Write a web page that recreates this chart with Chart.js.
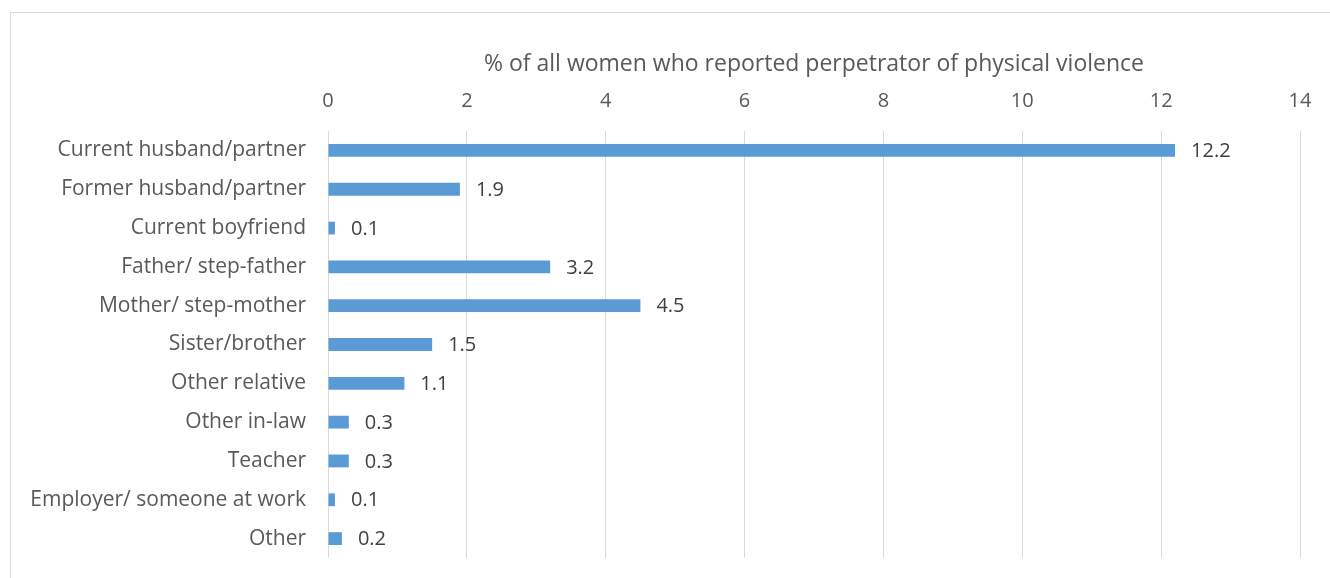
<!DOCTYPE html>
<html>
<head>
<meta charset="utf-8">
<script src="https://cdn.jsdelivr.net/npm/chart.js@4/dist/chart.umd.min.js"></script>
<style>
  html, body { margin: 0; padding: 0; background: #fff; }
  #wrap { width: 1330px; height: 578px; position: relative; }
</style>
</head>
<body>
<div id="wrap"><canvas id="myChart" width="1330" height="578"></canvas></div>
<script>
const categories = [
  'Current husband/partner',
  'Former husband/partner',
  'Current boyfriend',
  'Father/ step-father',
  'Mother/ step-mother',
  'Sister/brother',
  'Other relative',
  'Other in-law',
  'Teacher',
  'Employer/ someone at work',
  'Other'
];
const values = [12.2, 1.9, 0.1, 3.2, 4.5, 1.5, 1.1, 0.3, 0.3, 0.1, 0.2];
const axisTitle = '% of all women who reported perpetrator of physical violence';

const FONT = '"Open Sans"';
const TEXT = '#595959';

// frame around the chart, like the office chart border
const framePlugin = {
  id: 'frame',
  beforeDraw(chart) {
    const c = chart.ctx;
    c.save();
    c.strokeStyle = '#d9d9d9';
    c.lineWidth = 1;
    c.beginPath();
    c.moveTo(10.5, chart.height + 5);
    c.lineTo(10.5, 12.5);
    c.lineTo(chart.width + 5, 12.5);
    c.stroke();
    c.restore();
  }
};

// value labels at the end of each bar
const valueLabels = {
  id: 'valueLabels',
  afterDatasetsDraw(chart) {
    const c = chart.ctx;
    const meta = chart.getDatasetMeta(0);
    c.save();
    c.font = '20px ' + FONT;
    c.fillStyle = '#404040';
    c.textAlign = 'left';
    c.textBaseline = 'middle';
    meta.data.forEach((bar, i) => {
      c.fillText(values[i].toFixed(1), bar.x + 16, bar.y + 1);
    });
    c.restore();
  }
};

const ctx = document.getElementById('myChart');
new Chart(ctx, {
  type: 'bar',
  data: {
    labels: categories,
    datasets: [{
      data: values,
      backgroundColor: '#5b9bd5',
      barPercentage: 0.55,
      categoryPercentage: 0.6
    }]
  },
  options: {
    indexAxis: 'y',
    responsive: false,
    animation: false,
    layout: { padding: { top: 40, right: 30, bottom: 20, left: 10 } },
    plugins: {
      legend: { display: false },
      tooltip: { enabled: false }
    },
    scales: {
      x: {
        position: 'top',
        min: 0,
        max: 14,
        ticks: { stepSize: 2, color: TEXT, font: { family: FONT, size: 20 }, padding: 18 },
        grid: { color: '#d9d9d9', drawTicks: false },
        border: { display: false },
        title: {
          display: true,
          text: axisTitle,
          color: TEXT,
          font: { family: FONT, size: 23 },
          padding: { top: 11, bottom: 4 }
        },
        afterFit(axis) { axis.height = 91; }
      },
      y: {
        ticks: { color: TEXT, font: { family: FONT, size: 21 }, padding: 22 },
        grid: { display: false, drawTicks: false },
        border: { display: false },
        afterFit(axis) {
          axis.width = 318;
          axis.paddingTop = 0;
          axis.paddingBottom = 0;
        }
      }
    }
  },
  plugins: [framePlugin, valueLabels]
});
</script>
</body>
</html>
